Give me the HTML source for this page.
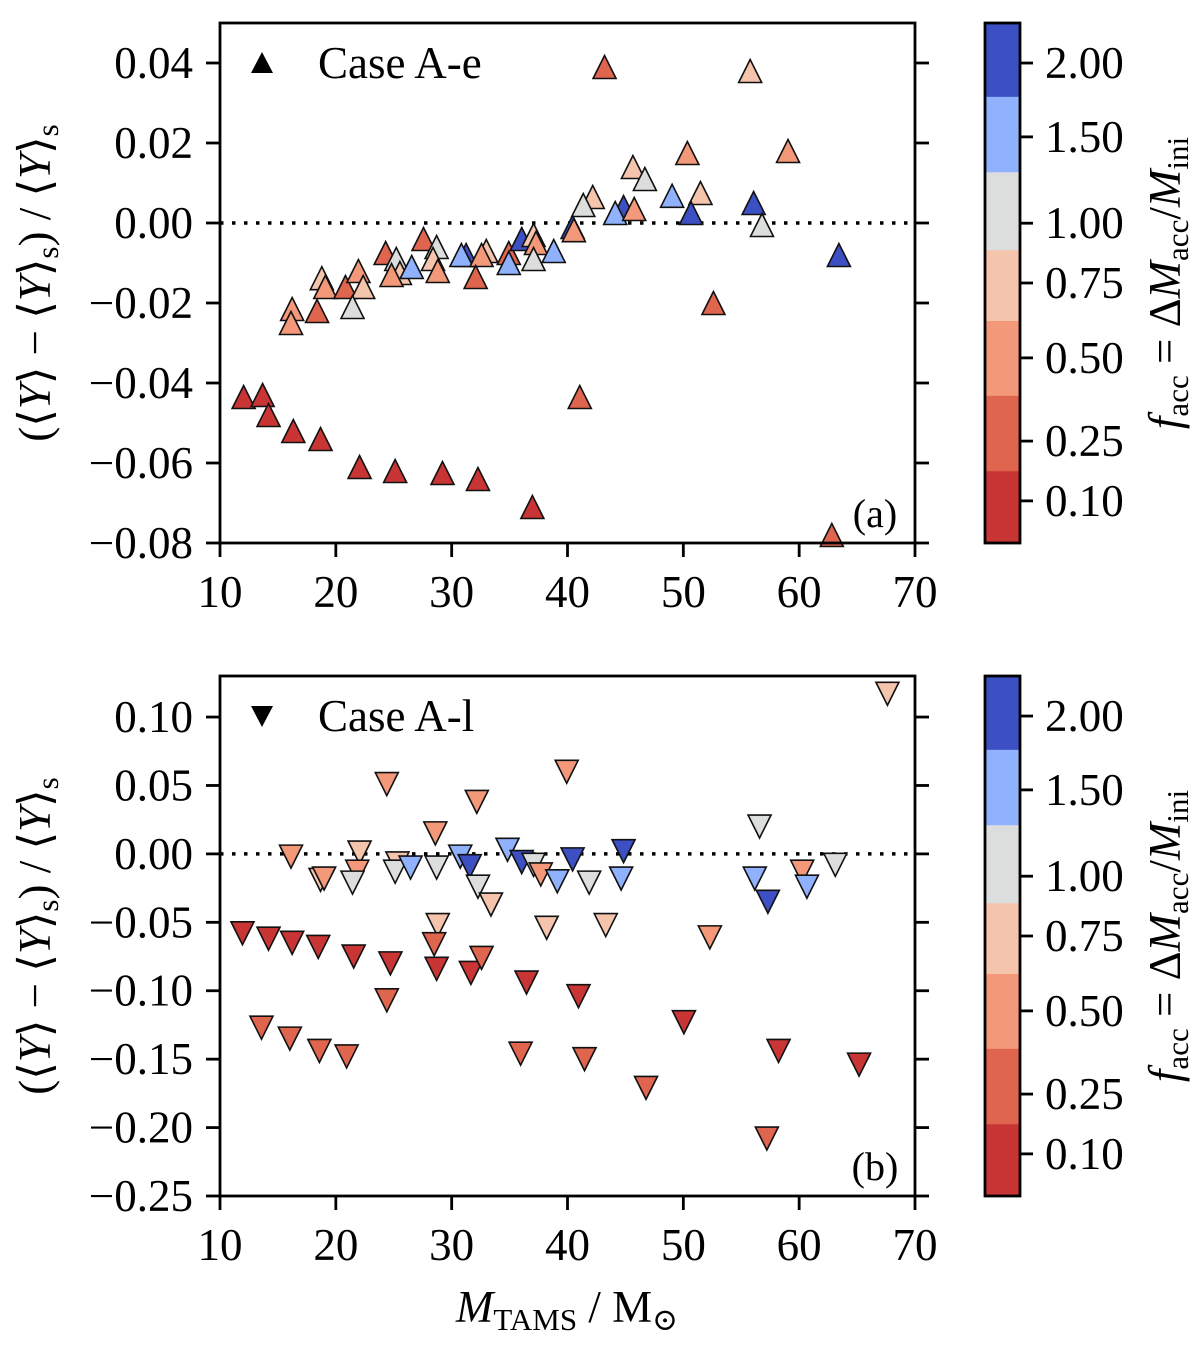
<!DOCTYPE html>
<html><head><meta charset="utf-8">
<style>
html,body{margin:0;padding:0;background:#fff;}
svg{display:block;font-family:"Liberation Serif","DejaVu Serif",serif;}
</style></head>
<body>
<svg id="chart" width="1200" height="1346" viewBox="0 0 1200 1346" xmlns="http://www.w3.org/2000/svg"></svg>
<script>
// ---- data ----
const faccLevels = [0.10, 0.25, 0.50, 0.75, 1.00, 1.50, 2.00];
const levelColors = ["#c93535", "#e0654f", "#f4987a", "#f5c4ac", "#dcdddd", "#8fb1fe", "#3d50c3"];
const cbTickLabels = ["2.00", "1.50", "1.00", "0.75", "0.50", "0.25", "0.10"];
const xTicks = [10, 20, 30, 40, 50, 60, 70];
const yTicksA = [0.04, 0.02, 0.00, -0.02, -0.04, -0.06, -0.08];
const yTicksB = [0.10, 0.05, 0.00, -0.05, -0.10, -0.15, -0.20, -0.25];

// Panel (a): M_TAMS, dY, facc
const aMass = [12.04,13.68,14.19,16.33,18.68,22.05,25.12,29.21,32.27,36.97,41.06,62.82,52.6,43.2,
 18.79,19.09,20.83,21.95,22.36,21.44,16.23,18.38,16.13,
 24.3,25.22,25.53,24.81,26.55,27.57,28.7,28.39,28.8,31.25,30.84,32.99,32.58,32.07,34.93,34.93,36.05,37.07,37.28,37.07,38.81,
 55.77,50.35,59.04,45.65,46.68,49.03,51.48,56.07,50.66,56.79,63.43,42.18,41.36,44.84,44.12,45.76,40.44,40.55];
const aDY = [-0.0435,-0.043,-0.048,-0.052,-0.054,-0.061,-0.062,-0.0625,-0.064,-0.071,-0.0435,-0.078,-0.020,0.039,
 -0.0138,-0.016,-0.016,-0.012,-0.016,-0.021,-0.0215,-0.022,-0.025,
 -0.0075,-0.009,-0.0125,-0.013,-0.011,-0.004,-0.006,-0.009,-0.012,-0.008,-0.008,-0.007,-0.008,-0.0135,-0.0075,-0.010,-0.004,-0.003,-0.005,-0.009,-0.007,
 0.038,0.0175,0.018,0.014,0.011,0.0068,0.0075,0.005,0.0025,-0.0005,-0.008,0.0065,0.0045,0.004,0.0025,0.0035,-0.001,-0.0018];
const aFacc = [0.10,0.10,0.10,0.10,0.10,0.10,0.10,0.10,0.10,0.10,0.25,0.25,0.25,0.25,
 0.75,0.50,0.25,0.50,0.75,1.00,0.50,0.25,0.50,
 0.25,1.00,0.75,0.50,1.50,0.25,1.00,0.75,0.50,2.00,1.50,0.75,0.50,0.25,0.25,1.50,2.00,0.75,0.50,1.00,1.50,
 0.75,0.50,0.50,0.75,1.00,1.50,0.75,2.00,2.00,1.00,2.00,0.75,1.00,2.00,1.50,0.50,2.00,0.50];

// Panel (b)
const bMass = [24.4,32.17,28.59,39.93,16.13,22.05,21.85,21.44,18.68,18.99,25.32,25.12,26.45,28.7,30.74,31.56,32.27,33.39,34.82,36.05,37.07,37.69,39.12,40.44,
 67.62,56.58,44.84,41.87,44.63,56.17,57.3,60.26,60.67,63.12,38.2,43.3,52.29,28.8,28.49,
 11.94,14.19,16.23,18.48,21.54,24.71,28.7,31.66,32.58,36.46,40.95,50.05,24.4,13.58,16.03,18.58,20.93,35.95,41.47,46.78,58.22,65.17,57.21];
const bDY = [0.051,0.038,0.015,0.060,-0.002,0.001,-0.013,-0.021,-0.019,-0.018,-0.007,-0.013,-0.010,-0.010,-0.002,-0.009,-0.024,-0.037,0.003,-0.006,-0.008,-0.015,-0.020,-0.004,
 0.117,0.020,0.002,-0.021,-0.018,-0.018,-0.035,-0.013,-0.024,-0.008,-0.054,-0.052,-0.061,-0.052,-0.066,
 -0.058,-0.062,-0.065,-0.068,-0.075,-0.080,-0.084,-0.087,-0.076,-0.094,-0.104,-0.123,-0.107,-0.127,-0.135,-0.144,-0.148,-0.146,-0.150,-0.171,-0.144,-0.154,-0.208];
const bFacc = [0.50,0.50,0.50,0.50,0.50,0.75,0.50,1.00,0.75,0.50,0.75,1.00,1.50,1.00,1.50,2.00,1.00,0.75,1.50,2.00,1.00,0.50,1.50,2.00,
 0.75,1.00,2.00,1.00,1.50,1.50,2.00,0.50,1.50,1.00,0.75,0.75,0.50,0.75,0.25,
 0.10,0.10,0.10,0.10,0.10,0.10,0.10,0.10,0.25,0.10,0.10,0.10,0.25,0.25,0.25,0.25,0.25,0.25,0.25,0.25,0.10,0.10,0.25];

// ---- drawing ----
const NS = "http://www.w3.org/2000/svg";
const svg = document.getElementById("chart");
function mk(tag, attrs, parent, text){
  const e = document.createElementNS(NS, tag);
  for (const k in attrs) e.setAttribute(k, attrs[k]);
  if (text !== undefined) e.textContent = text;
  (parent || svg).appendChild(e);
  return e;
}
function colorOf(f){
  let i = faccLevels.indexOf(f);
  if (i < 0) i = 0;
  return levelColors[i];
}
function fmt(v, d){ const s = Math.abs(v).toFixed(d); return (v < -1e-9 ? "\u2212" : "") + s; }

const X0 = 220, X1 = 915;
const XMIN = 10, XMAX = 70;
function xScale(v){ return X0 + (v - XMIN) / (XMAX - XMIN) * (X1 - X0); }
const FS = 45;

function panel(cfg){
  const g = mk("g", {}, svg);
  
  
  const yS = v => cfg.top + (cfg.ymax - v) / (cfg.ymax - cfg.ymin) * (cfg.bottom - cfg.top);
  const zl = mk("line", {x1:X0, x2:X1, y1:yS(0), y2:yS(0), stroke:"#000", "stroke-width":3.5, "stroke-dasharray":"3.5 8.5"}, g);
  
  
  const mg = mk("g", {}, g);
  
  
  const h = 11.5;
  cfg.xs.forEach((xv, i) => {
    const cx = xScale(xv), cy = yS(cfg.ys[i]);
    const pts = cfg.up
      ? `${cx},${cy-h} ${cx-h},${cy+h} ${cx+h},${cy+h}`
      : `${cx},${cy+h} ${cx-h},${cy-h} ${cx+h},${cy-h}`;
    const p = mk("polygon", {points:pts, fill:colorOf(cfg.fs[i]), stroke:"#111", "stroke-width":1.6}, mg);
    
    
  });
  const fr = mk("rect", {x:X0, y:cfg.top, width:X1-X0, height:cfg.bottom-cfg.top, fill:"none", stroke:"#000", "stroke-width":2.8}, g);
  
  
  cfg.yticks.forEach(t => {
    const y = yS(t);
    mk("line", {x1:X0-14, x2:X0, y1:y, y2:y, stroke:"#000", "stroke-width":2.8}, g);
    mk("line", {x1:X1, x2:X1+14, y1:y, y2:y, stroke:"#000", "stroke-width":2.8}, g);
    const tl = mk("text", {x:X0-27, y:y+15, "font-size":FS, "text-anchor":"end"}, g, fmt(t, 2));
    
    
  });
  xTicks.forEach(t => {
    const x = xScale(t);
    mk("line", {x1:x, x2:x, y1:cfg.bottom, y2:cfg.bottom+14, stroke:"#000", "stroke-width":2.8}, g);
    const tl = mk("text", {x:x, y:cfg.bottom+64, "font-size":FS, "text-anchor":"middle"}, g, String(t));
    
    
  });
  const yc = (cfg.top + cfg.bottom) / 2;
  const yt = mk("text", {x:0, y:0, "font-size":FS, "text-anchor":"middle", transform:`translate(50,${yc}) rotate(-90)`}, g);
  
  
  yt.innerHTML = '(\u27E8<tspan font-style="italic">Y</tspan>\u27E9 \u2212 \u27E8<tspan font-style="italic">Y</tspan>\u27E9<tspan font-size="31" dy="8">s</tspan><tspan dy="-8">) / \u27E8</tspan><tspan font-style="italic">Y</tspan>\u27E9<tspan font-size="31" dy="8">s</tspan>';
  const lg = mk("g", {}, g);
  
  
  const lx = 262, ly = cfg.top + 40;
  mk("polygon", {points: cfg.up ? `${lx},${ly-11} ${lx-11},${ly+10} ${lx+11},${ly+10}` : `${lx},${ly+11} ${lx-11},${ly-10} ${lx+11},${ly-10}`, fill:"#000"}, lg);
  mk("text", {x:318, y:ly+15, "font-size":FS}, lg, cfg.legend);
  const pl = mk("text", {x:875, y:cfg.bottom-16, "font-size":40, "text-anchor":"middle"}, g, cfg.label);
  
  
  const cb = mk("g", {}, g);
  
  
  const bounds = [0, .142, .287, .437, .573, .717, .862, 1];
  const tickFr = [.077, .219, .385, .5, .644, .804, .919];
  const H = cfg.bottom - cfg.top;
  for (let i = 0; i < 7; i++){
    const y0 = cfg.top + bounds[i]*H, y1 = cfg.top + bounds[i+1]*H;
    mk("rect", {x:985, y:y0, width:35, height:y1-y0+0.5, fill:levelColors[6-i]}, cb);
  }
  mk("rect", {x:985, y:cfg.top, width:35, height:H, fill:"none", stroke:"#000", "stroke-width":2.8}, cb);
  cbTickLabels.forEach((lab, i) => {
    const y = cfg.top + tickFr[i]*H;
    mk("line", {x1:1020, x2:1033, y1:y, y2:y, stroke:"#000", "stroke-width":2.8}, cb);
    mk("text", {x:1045, y:y+15, "font-size":FS}, cb, lab);
  });
  const ct = mk("text", {x:0, y:0, "font-size":FS, "text-anchor":"middle", transform:`translate(1180,${yc}) rotate(-90)`}, cb);
  
  
  ct.innerHTML = '<tspan font-style="italic">f</tspan><tspan font-size="31" dy="8">acc</tspan><tspan dy="-8"> = \u0394</tspan><tspan font-style="italic">M</tspan><tspan font-size="31" dy="8">acc</tspan><tspan dy="-8">/</tspan><tspan font-style="italic">M</tspan><tspan font-size="31" dy="8">ini</tspan>';
}

panel({name:"panel-a-case-a-e", top:23, bottom:543, ymax:0.05, ymin:-0.08, yticks:yTicksA,
  xs:aMass, ys:aDY, fs:aFacc, up:true, legend:"Case A-e", label:"(a)"});
panel({name:"panel-b-case-a-l", top:676, bottom:1196, ymax:0.13, ymin:-0.25, yticks:yTicksB,
  xs:bMass, ys:bDY, fs:bFacc, up:false, legend:"Case A-l", label:"(b)"});

const xt = mk("text", {x:567, y:1322, "font-size":FS, "text-anchor":"middle"});


xt.innerHTML = '<tspan font-style="italic">M</tspan><tspan font-size="31" dy="8">TAMS</tspan><tspan dy="-8"> / M</tspan><tspan font-size="31" dy="8">\u2299</tspan>';
</script>
</body></html>
